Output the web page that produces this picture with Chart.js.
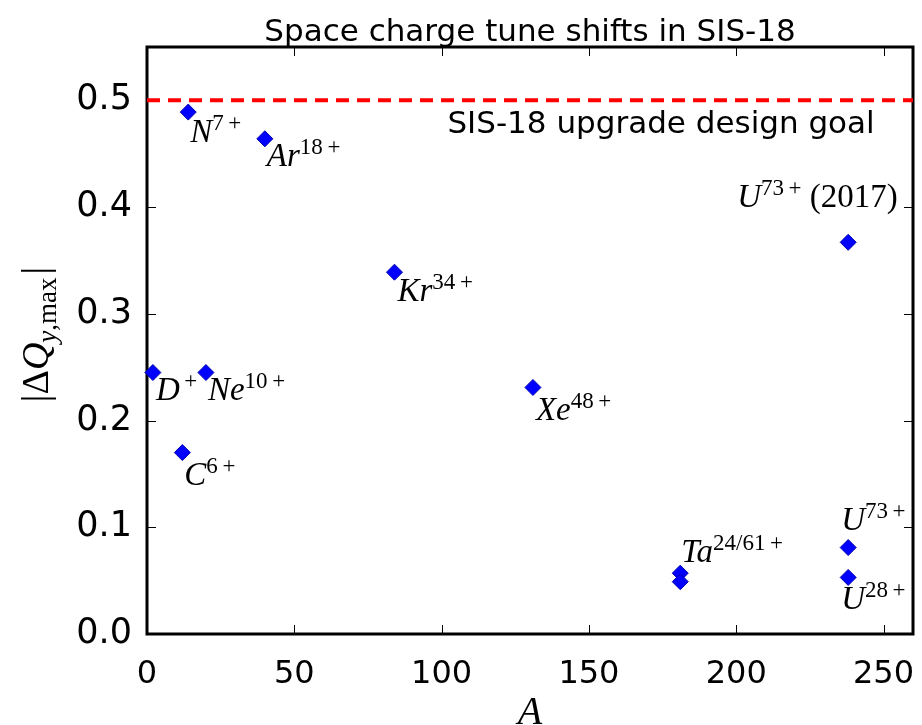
<!DOCTYPE html>
<html>
<head>
<meta charset="utf-8">
<title>Space charge tune shifts in SIS-18</title>
<script src="https://cdn.jsdelivr.net/npm/chart.js@4.4.1/dist/chart.umd.min.js"></script>
<style>
  body { margin: 0; background: #fff; }
  canvas { display: block; }
</style>
</head>
<body>
<canvas id="tuneChart" width="922" height="725"></canvas>
<script>
// mass number A and max vertical space charge tune shift for each ion
const massNumbers = [14, 40, 84, 2, 20, 12, 131, 238, 181, 181, 238, 238];
const tuneShifts = [0.489, 0.464, 0.339, 0.245, 0.245, 0.170, 0.231, 0.367, 0.057, 0.049, 0.081, 0.053];

// ion symbol, charge state and note per point (null = point has no label of its own)
const ionSymbols = ['N', 'Ar', 'Kr', 'D', 'Ne', 'C', 'Xe', 'U', 'Ta', null, 'U', 'U'];
const chargeStates = ['7+', '18+', '34+', '+', '10+', '6+', '48+', '73+', '24/61+', null, '73+', '28+'];
const labelNotes = ['', '', '', '', '', '', '', '(2017)', '', '', '', ''];

const chartTitle = 'Space charge tune shifts in SIS-18';
const goalValue = 0.5;
const goalLabel = 'SIS-18 upgrade design goal';

const xTicks = [0, 50, 100, 150, 200, 250];
const yTicks = [0.0, 0.1, 0.2, 0.3, 0.4, 0.5];

// where each label sits relative to its marker (px, baseline-left)
const labelOffsets = [
  [2, 30], [2, 27], [3, 29], [3, 27], [2, 27], [2, 32], [3, 33],
  [-111, -35], [1, -11], null, [-7, -18], [-7, 32]
];

const SERIF = '"Liberation Serif", "DejaVu Serif", serif';
const SANS = '"DejaVu Sans", sans-serif';

// charge states are typeset with a thin gap before the plus sign
const supText = s => s.replace(/\+$/, '\u2009+');

// draw a run of text pieces (italic / superscript / subscript) left to right
function drawRuns(ctx, x, y, runs) {
  let cx = x;
  for (const r of runs) {
    ctx.font = (r.italic ? 'italic ' : '') + r.size + 'px ' + SERIF;
    ctx.fillText(r.text, cx, y - (r.rise || 0));
    cx += ctx.measureText(r.text).width + (r.gap || 0);
  }
  return cx - x;
}

function runsWidth(ctx, runs) {
  let w = 0;
  for (const r of runs) {
    ctx.font = (r.italic ? 'italic ' : '') + r.size + 'px ' + SERIF;
    w += ctx.measureText(r.text).width + (r.gap || 0);
  }
  return w;
}

const frameAndLabels = {
  id: 'frameAndLabels',
  beforeDatasetsDraw(chart) {
    const { ctx, chartArea: a, scales: { x, y } } = chart;
    ctx.save();
    ctx.strokeStyle = '#000';
    // inward tick marks on all four sides
    ctx.lineWidth = 1;
    ctx.beginPath();
    xTicks.forEach(v => {
      const px = Math.round(x.getPixelForValue(v)) + 0.5;
      ctx.moveTo(px, a.bottom); ctx.lineTo(px, a.bottom - 9);
      ctx.moveTo(px, a.top); ctx.lineTo(px, a.top + 9);
    });
    yTicks.forEach(v => {
      const py = Math.round(y.getPixelForValue(v)) + 0.5;
      ctx.moveTo(a.left, py); ctx.lineTo(a.left + 9, py);
      ctx.moveTo(a.right, py); ctx.lineTo(a.right - 9, py);
    });
    ctx.stroke();
    ctx.lineWidth = 3;
    ctx.strokeRect(a.left, a.top, a.right - a.left, a.bottom - a.top);
    ctx.restore();
  },
  afterDatasetsDraw(chart) {
    const { ctx, chartArea: a, scales: { x, y } } = chart;
    ctx.save();
    ctx.fillStyle = '#000';
    ctx.textBaseline = 'alphabetic';
    ctx.textAlign = 'left';

    // ion labels next to the markers
    massNumbers.forEach((m, i) => {
      if (!ionSymbols[i]) return;
      const px = x.getPixelForValue(m);
      const py = y.getPixelForValue(tuneShifts[i]);
      const [dx, dy] = labelOffsets[i];
      const runs = [
        { text: ionSymbols[i], italic: true, size: 33 },
        { text: supText(chargeStates[i]), size: 23, rise: 12 }
      ];
      if (labelNotes[i]) runs.push({ text: ' ' + labelNotes[i], size: 33 });
      drawRuns(ctx, px + dx, py + dy, runs);
    });

    // title centred over the plot area
    ctx.font = '31px ' + SANS;
    ctx.textAlign = 'center';
    ctx.fillText(chartTitle, (a.left + a.right) / 2, 41);

    // design goal caption under the dashed line
    ctx.textAlign = 'right';
    ctx.fillText(goalLabel, x.getPixelForValue(247), y.getPixelForValue(goalValue) + 33);

    // axis titles
    ctx.textAlign = 'left';
    ctx.font = 'italic 40px ' + SERIF;
    const aw = ctx.measureText('A').width;
    ctx.fillText('A', (a.left + a.right) / 2 - aw / 2, 724);

    const yRuns = [
      { text: '|', size: 38 },
      { text: '\u0394', size: 38 },
      { text: 'Q', italic: true, size: 38 },
      { text: 'y', italic: true, size: 27, rise: -8 },
      { text: ',max', size: 27, rise: -8, gap: 3 },
      { text: '|', size: 38 }
    ];
    const yw = runsWidth(ctx, yRuns);
    ctx.translate(48, (a.top + a.bottom) / 2 - 6);
    ctx.rotate(-Math.PI / 2);
    drawRuns(ctx, -yw / 2, 0, yRuns);
    ctx.restore();
  }
};

const points = massNumbers.map((m, i) => ({ x: m, y: tuneShifts[i] }));

new Chart(document.getElementById('tuneChart'), {
  type: 'scatter',
  data: {
    datasets: [
      {
        type: 'line',
        data: [{ x: 0, y: goalValue }, { x: 260, y: goalValue }],
        borderColor: '#ff0000',
        borderWidth: 4,
        borderDash: [13, 8],
        pointRadius: 0,
        order: 2
      },
      {
        data: points,
        pointStyle: 'rectRot',
        pointRadius: 8,
        backgroundColor: '#0000ff',
        borderColor: '#0000b0',
        borderWidth: 1,
        clip: false,
        order: 1
      }
    ]
  },
  options: {
    responsive: false,
    animation: false,
    layout: { padding: { left: 0, right: 7, top: 47, bottom: 0 } },
    plugins: {
      legend: { display: false },
      tooltip: { enabled: false },
      title: { display: false }
    },
    scales: {
      x: {
        type: 'linear',
        min: 0,
        max: 260,
        afterBuildTicks: s => { s.ticks = xTicks.map(v => ({ value: v })); },
        afterFit: s => { s.height = 91; s.paddingLeft = 0; s.paddingRight = 0; },
        grid: { display: false, drawTicks: false },
        border: { display: false },
        ticks: {
          color: '#000',
          padding: 21,
          font: { family: SANS, size: 32 },
          callback: v => String(v)
        }
      },
      y: {
        type: 'linear',
        min: 0,
        max: 0.55,
        afterBuildTicks: s => { s.ticks = yTicks.map(v => ({ value: v })); },
        afterFit: s => { s.width = 147; s.paddingTop = 0; s.paddingBottom = 0; },
        grid: { display: false, drawTicks: false },
        border: { display: false },
        ticks: {
          color: '#000',
          padding: 15,
          font: { family: SANS, size: 35 },
          callback: v => v.toFixed(1)
        }
      }
    }
  },
  plugins: [frameAndLabels]
});
</script>
</body>
</html>
